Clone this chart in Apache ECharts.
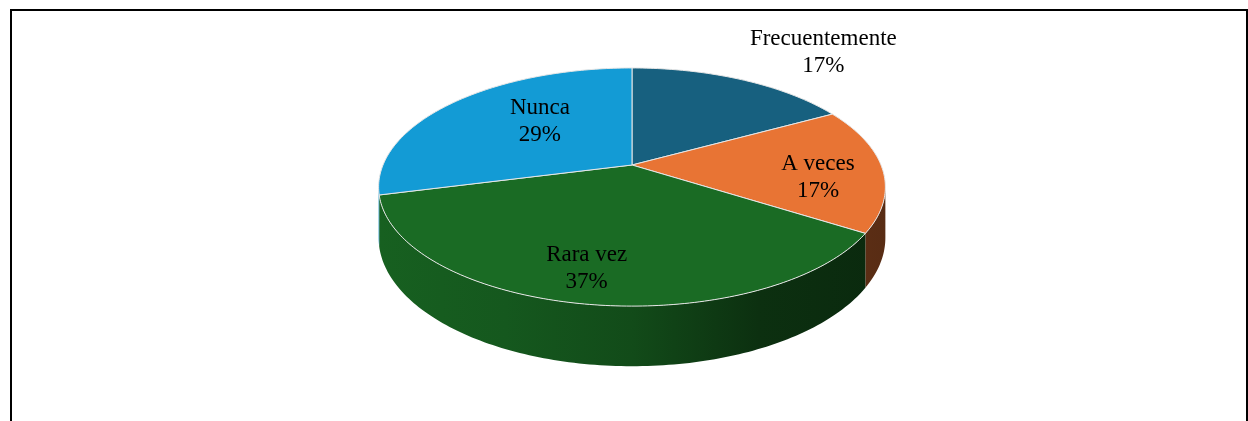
<!DOCTYPE html>
<html>
<head>
<meta charset="utf-8">
<script src="https://cdn.jsdelivr.net/npm/echarts@6/dist/echarts.min.js"></script>
<style>
  html, body { margin: 0; padding: 0; background: #fff; }
  #chart { width: 1248px; height: 421px; }
</style>
</head>
<body>
<div id="chart"></div>
<script>
  // datos del gráfico
  const categories = ['Frecuentemente', 'A veces', 'Rara vez', 'Nunca'];
  const values = [17, 17, 37, 29];

  // estilo
  const colors = ['#17607f', '#e87434', '#1a6b24', '#139bd5'];
  // [fracción de radio, dx, dy] para cada etiqueta
  const labelLayout = [[1.0, 82, -27], [0.74, 1, 10], [0.74, -12, 6], [0.5, 1, -10]];

  const total = values.reduce((a, b) => a + b, 0);
  const starts = [];
  values.reduce((acc, v) => { starts.push(acc); return acc + v; }, 0);

  // proyección en perspectiva del disco
  const CX = 632, CY = 165, A = 249, B = 115, K = 0.185, DEPTH = 49;
  const SIL1 = Math.acos(-K), SIL2 = 2 * Math.PI - Math.acos(-K);

  function proj(theta, r, drop) {
    const s = Math.sin(theta), c = Math.cos(theta);
    const w = 1 + K * c * r;
    return [CX + A * r * s / w, CY - B * r * c / w + (drop || 0) / w];
  }

  function shade(hex, f) {
    const n = parseInt(hex.slice(1), 16);
    const r = Math.round(((n >> 16) & 255) * f);
    const g = Math.round(((n >> 8) & 255) * f);
    const b = Math.round((n & 255) * f);
    return 'rgb(' + r + ',' + g + ',' + b + ')';
  }

  function arcPoints(t1, t2, drop) {
    const pts = [];
    const steps = Math.max(2, Math.ceil((t2 - t1) / (Math.PI / 180)));
    for (let i = 0; i <= steps; i++) {
      pts.push(proj(t1 + (t2 - t1) * i / steps, 1, drop));
    }
    return pts;
  }

  function renderItem(params, api) {
    const i = params.dataIndex;
    const v = api.value(0);
    const t1 = starts[i] / total * 2 * Math.PI;
    const t2 = (starts[i] + v) / total * 2 * Math.PI;
    const color = colors[i];
    const children = [];

    // pared lateral visible
    const w1 = Math.max(t1, SIL1), w2 = Math.min(t2, SIL2);
    if (w2 > w1) {
      const top = arcPoints(w1, w2, 0);
      const bottom = arcPoints(w1, w2, DEPTH).reverse();
      children.push({
        type: 'polygon',
        z2: 1,
        shape: { points: top.concat(bottom) },
        style: {
          fill: new echarts.graphic.LinearGradient(CX - A - 5, 0, CX + A + 5, 0, [
            { offset: 0, color: shade(color, 0.9) },
            { offset: 0.25, color: shade(color, 0.82) },
            { offset: 0.5, color: shade(color, 0.7) },
            { offset: 0.75, color: shade(color, 0.45) },
            { offset: 1, color: shade(color, 0.38) }
          ], true),
          stroke: null
        }
      });
    }

    // cara superior
    children.push({
      type: 'polygon',
      z2: 5,
      shape: { points: [proj(0, 0, 0)].concat(arcPoints(t1, t2, 0)) },
      style: { fill: color, stroke: '#e6e6e6', lineWidth: 1 }
    });

    // etiqueta
    const lay = labelLayout[i];
    const pos = proj((t1 + t2) / 2, lay[0], 0);
    children.push({
      type: 'text',
      z2: 10,
      x: pos[0] + lay[1],
      y: pos[1] + lay[2],
      style: {
        text: categories[i] + '\n' + Math.round(v / total * 100) + '%',
        align: 'center',
        verticalAlign: 'middle',
        fill: '#000',
        font: '23px "Liberation Serif", "Times New Roman", serif',
        lineHeight: 27
      }
    });

    return { type: 'group', children: children };
  }

  const myChart = echarts.init(document.getElementById('chart'));
  const option = {
    animation: false,
    graphic: [{
      type: 'rect',
      shape: { x: 11, y: 10, width: 1236, height: 600 },
      style: { fill: 'none', stroke: '#000', lineWidth: 2 },
      silent: true
    }],
    series: [{
      type: 'custom',
      coordinateSystem: 'none',
      renderItem: renderItem,
      data: values
    }]
  };
  myChart.setOption(option);
</script>
</body>
</html>
